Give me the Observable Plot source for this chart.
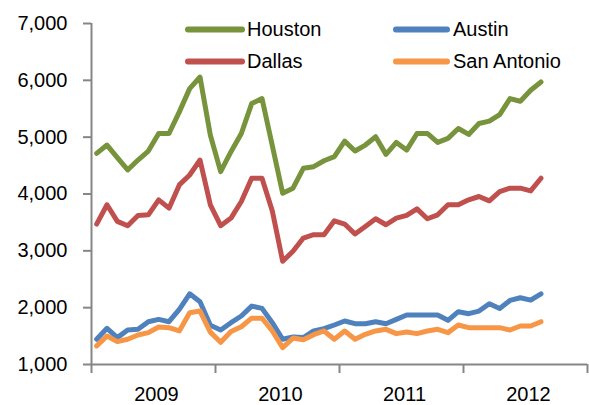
<!DOCTYPE html>
<html>
<head>
<meta charset="utf-8">
<script src="https://cdn.jsdelivr.net/npm/d3@7"></script>
<script src="https://cdn.jsdelivr.net/npm/@observablehq/plot@0.6"></script>
<style>
  html, body { margin: 0; padding: 0; background: #fff; }
  #chart { width: 589px; height: 405px; }
</style>
</head>
<body>
<div id="chart"></div>
<script>
// Monthly categories: Jan 2009 .. Aug 2012 (44 months)
const months = [
  "2009-01","2009-02","2009-03","2009-04","2009-05","2009-06","2009-07","2009-08","2009-09","2009-10","2009-11","2009-12",
  "2010-01","2010-02","2010-03","2010-04","2010-05","2010-06","2010-07","2010-08","2010-09","2010-10","2010-11","2010-12",
  "2011-01","2011-02","2011-03","2011-04","2011-05","2011-06","2011-07","2011-08","2011-09","2011-10","2011-11","2011-12",
  "2012-01","2012-02","2012-03","2012-04","2012-05","2012-06","2012-07","2012-08"
];
const yearLabels = ["2009", "2010", "2011", "2012"];
const yTicks = [1000, 2000, 3000, 4000, 5000, 6000, 7000];

const cities = ["Houston", "Austin", "Dallas", "San Antonio"];
const cityColors = ["#77933C", "#4F81BD", "#C0504D", "#F79646"];

const houston = [4715, 4861, 4640, 4423, 4598, 4756, 5065, 5065, 5445, 5854, 6058, 5036,
  4394, 4744, 5065, 5591, 5679, 4849, 4014, 4102, 4452, 4481, 4585, 4657,
  4931, 4756, 4861, 5007, 4697, 4908, 4773, 5065, 5065, 4908, 4978, 5153,
  5048, 5241, 5282, 5398, 5679, 5632, 5825, 5971];
const austin = [1444, 1637, 1473, 1607, 1619, 1753, 1794, 1753, 1970, 2244, 2104, 1690,
  1607, 1736, 1853, 2028, 1987, 1736, 1444, 1485, 1473, 1590, 1630, 1695,
  1765, 1718, 1718, 1753, 1718, 1794, 1870, 1870, 1870, 1870, 1777, 1929,
  1894, 1940, 2069, 1987, 2127, 2174, 2133, 2244];
const dallas = [3471, 3810, 3518, 3442, 3623, 3634, 3897, 3751, 4160, 4335, 4598, 3810,
  3442, 3576, 3868, 4277, 4277, 3700, 2817, 2992, 3225, 3284, 3285, 3529,
  3471, 3296, 3430, 3564, 3459, 3576, 3623, 3739, 3564, 3634, 3810, 3810,
  3897, 3956, 3880, 4043, 4102, 4102, 4055, 4277];
const sanAntonio = [1327, 1502, 1403, 1444, 1520, 1561, 1660, 1648, 1590, 1911, 1940, 1570,
  1390, 1580, 1665, 1815, 1815, 1590, 1298, 1465, 1435, 1525, 1590, 1444,
  1590, 1444, 1532, 1590, 1619, 1543, 1572, 1543, 1590, 1619, 1561, 1695,
  1648, 1648, 1648, 1648, 1607, 1678, 1678, 1753];

const seriesValues = [houston, austin, dallas, sanAntonio];

const rows = cities.flatMap((city, k) =>
  seriesValues[k].map((v, i) => ({city, month: months[i], idx: i, value: v}))
);

const axisGrey = "#868686";

const chart = Plot.plot({
  width: 589,
  height: 405,
  marginLeft: 91,
  marginRight: 2,
  marginTop: 23,
  marginBottom: 41,
  style: {fontFamily: "'Liberation Sans', Arial, sans-serif", fontSize: "20px", color: "#000", background: "#fff"},
  x: {type: "linear", domain: [0, 48], axis: null},
  y: {domain: [1000, 7000], axis: null},
  color: {domain: cities, range: cityColors},
  marks: [
    Plot.axisY({ticks: yTicks, tickSize: 8, tickPadding: 16, tickFormat: d3.format(","),
      stroke: axisGrey, strokeWidth: 2, fill: "#000", fontSize: 20, label: null}),
    Plot.axisX({ticks: [0, 12, 24, 36, 48], tickSize: 9, tickFormat: () => "",
      stroke: axisGrey, strokeWidth: 2, label: null}),
    Plot.ruleX([0], {y1: 1000, y2: 7000, stroke: axisGrey, strokeWidth: 2}),
    Plot.ruleY([1000], {x1: 0, x2: 48, stroke: axisGrey, strokeWidth: 2}),
    Plot.text(yearLabels, {x: (d, i) => i * 12 + 6, y: 1000, dy: 30, dx: 3, text: d => d,
      fill: "#000", fontSize: 20}),
    Plot.line(rows, {x: d => d.idx + 0.5, y: "value", z: "city", stroke: "city",
      strokeWidth: 5, strokeLinejoin: "round", strokeLinecap: "round"})
  ]
});

document.getElementById("chart").appendChild(chart);

// Legend inside the plot area (two columns, two rows)
const legendPos = [
  {sx1: 188, sx2: 242, sy: 29.5, tx: 247, ty: 36},
  {sx1: 396, sx2: 447, sy: 29.5, tx: 453, ty: 36},
  {sx1: 188, sx2: 242, sy: 61.5, tx: 247, ty: 68},
  {sx1: 396, sx2: 447, sy: 61.5, tx: 453, ty: 68}
];
const svg = d3.select(chart);
const lg = svg.append("g").attr("class", "legend").attr("text-anchor", "start");
cities.forEach((c, k) => {
  const p = legendPos[k];
  lg.append("line").attr("x1", p.sx1).attr("x2", p.sx2).attr("y1", p.sy).attr("y2", p.sy)
    .attr("stroke", cityColors[k]).attr("stroke-width", 6).attr("stroke-linecap", "round");
  lg.append("text").attr("x", p.tx).attr("y", p.ty).text(c)
    .attr("text-anchor", "start")
    .attr("fill", "#000").attr("font-size", 20)
    .attr("font-family", "'Liberation Sans', Arial, sans-serif");
});
</script>
</body>
</html>
